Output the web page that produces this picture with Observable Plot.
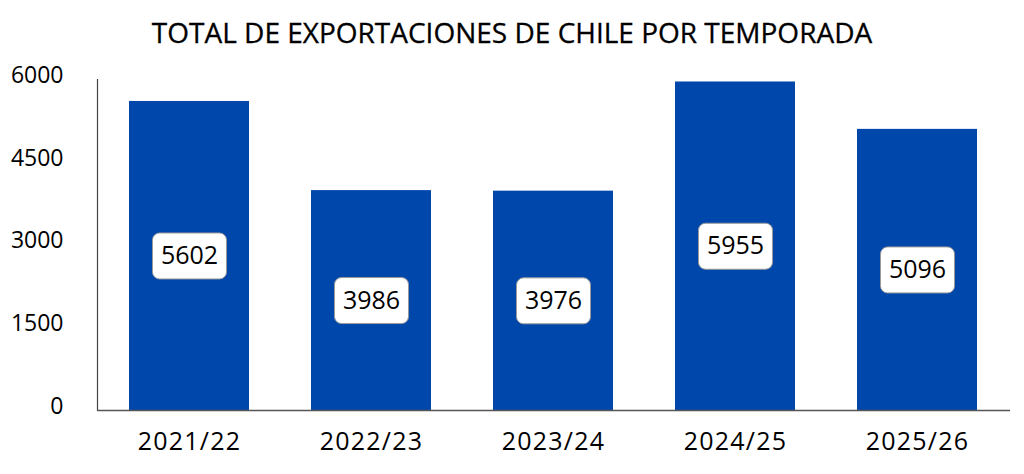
<!DOCTYPE html>
<html>
<head>
<meta charset="utf-8">
<script src="https://cdn.jsdelivr.net/npm/d3@7"></script>
<script src="https://cdn.jsdelivr.net/npm/@observablehq/plot@0.6"></script>
<style>
  html, body { margin: 0; padding: 0; background: #fff; }
  #title { height: 60px; width: 1024px; box-sizing: border-box; padding-top: 4px; display: flex; align-items: center; justify-content: center; font-family: "Open Sans", sans-serif; font-size: 28px; color: #000; -webkit-text-stroke: 0.3px #000; }
  #chart svg { display: block; }
  #chart g[aria-label="x-axis tick label"] text { letter-spacing: 1.2px; }
</style>
</head>
<body>
<div id="title">TOTAL DE EXPORTACIONES DE CHILE POR TEMPORADA</div>
<div id="chart"></div>
<script>
const seasons = ["2021/22", "2022/23", "2023/24", "2024/25", "2025/26"];
const totals = [5602, 3986, 3976, 5955, 5096];
const yTicks = [0, 1500, 3000, 4500, 6000];

const data = seasons.map((s, i) => ({ season: s, total: totals[i] }));

function boxedLabels(index, scales, values, dimensions, context, next) {
  const g = next(index, scales, values, dimensions, context);
  const ns = "http://www.w3.org/2000/svg";
  const bg = document.createElementNS(ns, "g");
  for (const i of index) {
    const cx = values.x[i], cy = values.y[i];
    const r = document.createElementNS(ns, "rect");
    r.setAttribute("x", cx - 37);
    r.setAttribute("y", cy - 23);
    r.setAttribute("width", 74);
    r.setAttribute("height", 46);
    r.setAttribute("rx", 7);
    r.setAttribute("fill", "#fff");
    r.setAttribute("stroke", "#999");
    r.setAttribute("stroke-width", 1);
    bg.appendChild(r);
  }
  g.insertBefore(bg, g.firstChild);
  return g;
}

const chart = Plot.plot({
  width: 1024,
  height: 414,
  marginTop: 19,
  marginBottom: 64,
  marginLeft: 97,
  marginRight: 14,
  style: { fontFamily: "Open Sans, sans-serif", color: "#000", background: "#fff", overflow: "visible" },
  x: { domain: seasons, paddingInner: 0.34, paddingOuter: 0.165, label: null },
  y: { domain: [0, 6000], label: null },
  marks: [
    Plot.barY(data, { x: "season", y: "total", fill: "#0047AB" }),
    Plot.frame({ anchor: "left", stroke: "#444", strokeWidth: 1.2 }),
    Plot.ruleY([0], { stroke: "#555", strokeWidth: 1.5 }),
    Plot.axisY({ ticks: yTicks, tickSize: 0, tickPadding: 34, fontSize: 23, dy: -4, label: null, tickFormat: d => String(d) }),
    Plot.axisX({ tickSize: 0, tickPadding: 22, fontSize: 25, label: null }),
    Plot.text(data, {
      x: "season",
      y: d => d.total / 2,
      text: d => String(d.total),
      fontSize: 25,
      fill: "#000",
      render: boxedLabels
    })
  ]
});
document.getElementById("chart").appendChild(chart);
</script>
</body>
</html>
